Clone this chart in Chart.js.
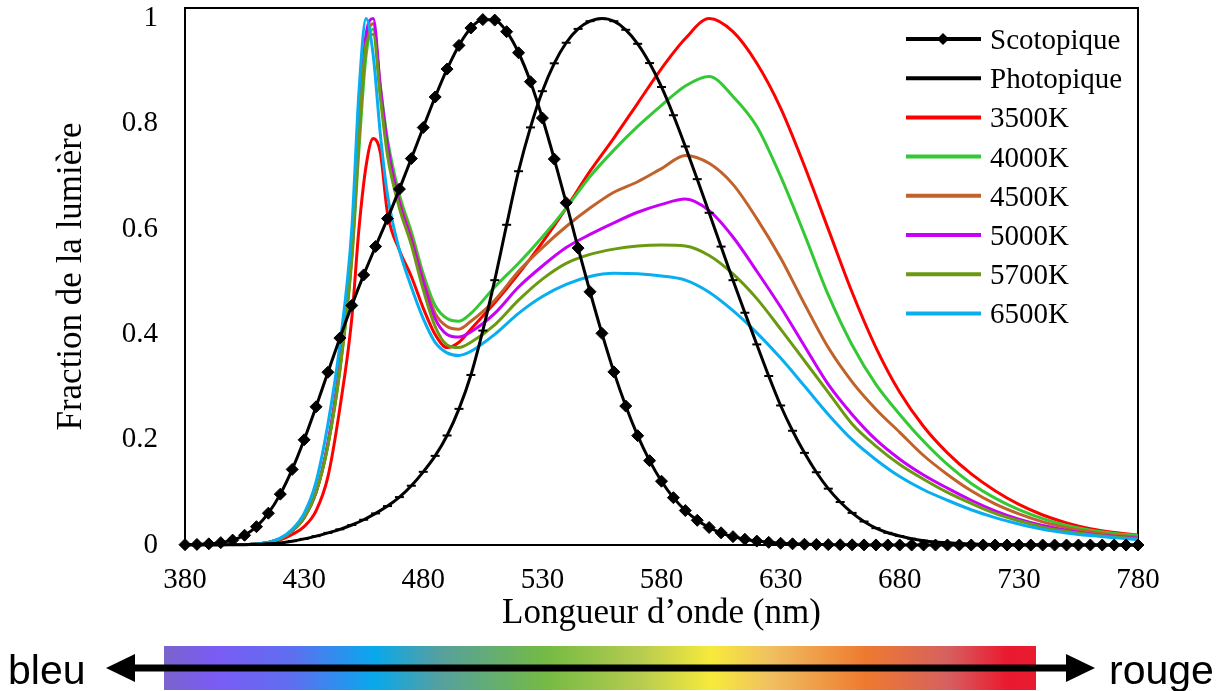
<!DOCTYPE html>
<html lang="fr">
<head>
<meta charset="utf-8">
<title>Spectres LED et sensibilité de l'oeil</title>
<script src="https://cdn.jsdelivr.net/npm/chart.js@4.4.1/dist/chart.umd.min.js"></script>
<style>
  html, body { margin: 0; padding: 0; background: #fff; }
  #wrap { position: relative; width: 1225px; height: 691px; }
</style>
</head>
<body>
<div id="wrap"><canvas id="spectres"></canvas></div>
<script>
// longueurs d'onde des courbes CIE (pas de 5 nm)
const wavelengths = [380, 385, 390, 395, 400, 405, 410, 415, 420, 425, 430, 435, 440, 445, 450, 455, 460, 465, 470, 475,
  480, 485, 490, 495, 500, 505, 510, 515, 520, 525, 530, 535, 540, 545, 550, 555, 560, 565, 570, 575,
  580, 585, 590, 595, 600, 605, 610, 615, 620, 625, 630, 635, 640, 645, 650, 655, 660, 665, 670, 675,
  680, 685, 690, 695, 700, 705, 710, 715, 720, 725, 730, 735, 740, 745, 750, 755, 760, 765, 770, 775, 780];

const scotopique = [0.0006, 0.0011, 0.0022, 0.0045, 0.0093, 0.0185, 0.0348, 0.0604, 0.0966, 0.1436, 0.1998, 0.2625, 0.3281, 0.3931, 0.455, 0.513, 0.567, 0.620, 0.676, 0.734,
  0.793, 0.851, 0.904, 0.949, 0.982, 0.998, 0.997, 0.975, 0.935, 0.880, 0.811, 0.733, 0.650, 0.564, 0.481, 0.402, 0.3288, 0.2639, 0.2076, 0.1602,
  0.1212, 0.0899, 0.0655, 0.0469, 0.0332, 0.0231, 0.0159, 0.0109, 0.0074, 0.0050, 0.0033, 0.0022, 0.0015, 0.0010, 0.0007, 0.0005, 0.0003, 0.0002, 0.0001, 0.0001,
  0, 0, 0, 0, 0, 0, 0, 0, 0, 0, 0, 0, 0, 0, 0, 0, 0, 0, 0, 0, 0];

const photopique = [0.0000, 0.0001, 0.0001, 0.0002, 0.0004, 0.0006, 0.0012, 0.0022, 0.0040, 0.0073, 0.0116, 0.0168, 0.0230, 0.0298, 0.0380, 0.0480, 0.0600, 0.0739, 0.0910, 0.1126,
  0.1390, 0.1693, 0.2080, 0.2586, 0.3230, 0.4073, 0.5030, 0.6082, 0.7100, 0.7932, 0.8620, 0.9149, 0.9540, 0.9803, 0.9950, 1.0000, 0.9950, 0.9786, 0.9520, 0.9154,
  0.8700, 0.8163, 0.7570, 0.6949, 0.6310, 0.5668, 0.5030, 0.4412, 0.3810, 0.3210, 0.2650, 0.2170, 0.1750, 0.1382, 0.1070, 0.0816, 0.0610, 0.0446, 0.0320, 0.0232,
  0.0170, 0.0119, 0.0082, 0.0057, 0.0041, 0.0029, 0.0021, 0.0015, 0.0010, 0.0007, 0.0005, 0.0004, 0.0002, 0.0002, 0.0001, 0.0001, 0.0001, 0, 0, 0, 0];

// longueurs d'onde lues pour les spectres des LED
const ledWavelengths = [380, 400, 410, 415, 420, 425, 430, 435, 440, 445, 450, 453, 456, 459, 462, 465, 470, 475, 480, 485,
  490, 495, 500, 510, 520, 530, 540, 550, 560, 570, 580, 590, 600, 610, 620, 630, 640, 650, 660, 670,
  680, 690, 700, 710, 720, 730, 740, 750, 760, 770, 780];

const led3500 = [0, 0, 0.002, 0.005, 0.01, 0.02, 0.035, 0.065, 0.13, 0.26, 0.43, 0.6, 0.72, 0.772, 0.745, 0.63, 0.56, 0.51, 0.45, 0.40,
  0.375, 0.385, 0.41, 0.46, 0.515, 0.575, 0.64, 0.71, 0.773, 0.839, 0.905, 0.962, 1.0, 0.975, 0.915, 0.83, 0.72, 0.6, 0.48, 0.375,
  0.29, 0.225, 0.175, 0.135, 0.103, 0.077, 0.057, 0.042, 0.031, 0.024, 0.019];
const led4000 = [0, 0, 0.002, 0.005, 0.012, 0.027, 0.052, 0.1, 0.19, 0.33, 0.54, 0.75, 0.93, 0.98, 0.87, 0.77, 0.665, 0.595, 0.515, 0.455,
  0.43, 0.425, 0.44, 0.49, 0.535, 0.585, 0.64, 0.70, 0.75, 0.795, 0.835, 0.872, 0.89, 0.852, 0.795, 0.70, 0.59, 0.475, 0.38, 0.305,
  0.248, 0.197, 0.153, 0.117, 0.089, 0.067, 0.05, 0.037, 0.028, 0.022, 0.018];
const led4500 = [0, 0, 0.002, 0.005, 0.012, 0.027, 0.052, 0.1, 0.19, 0.335, 0.55, 0.77, 0.95, 0.99, 0.86, 0.755, 0.655, 0.585, 0.505, 0.44,
  0.415, 0.41, 0.425, 0.465, 0.52, 0.565, 0.605, 0.64, 0.67, 0.69, 0.715, 0.74, 0.725, 0.685, 0.62, 0.545, 0.458, 0.375, 0.31, 0.258,
  0.214, 0.17, 0.134, 0.103, 0.078, 0.059, 0.044, 0.033, 0.025, 0.019, 0.015];
const led5000 = [0, 0, 0.002, 0.005, 0.012, 0.027, 0.052, 0.1, 0.195, 0.345, 0.56, 0.8, 0.97, 1.0, 0.87, 0.76, 0.65, 0.58, 0.50, 0.43,
  0.40, 0.395, 0.405, 0.44, 0.49, 0.53, 0.565, 0.59, 0.612, 0.632, 0.647, 0.657, 0.635, 0.585, 0.52, 0.452, 0.378, 0.305, 0.248, 0.2,
  0.163, 0.133, 0.108, 0.085, 0.065, 0.049, 0.037, 0.028, 0.021, 0.016, 0.013];
const led5700 = [0, 0, 0.002, 0.005, 0.012, 0.027, 0.052, 0.1, 0.19, 0.335, 0.55, 0.78, 0.95, 0.97, 0.85, 0.74, 0.64, 0.57, 0.485, 0.415,
  0.38, 0.375, 0.385, 0.418, 0.465, 0.505, 0.535, 0.552, 0.562, 0.568, 0.57, 0.568, 0.55, 0.515, 0.468, 0.41, 0.35, 0.29, 0.23, 0.188,
  0.153, 0.125, 0.1, 0.079, 0.06, 0.046, 0.034, 0.026, 0.02, 0.015, 0.012];
const led6500 = [0, 0, 0.002, 0.005, 0.013, 0.03, 0.06, 0.12, 0.23, 0.38, 0.60, 0.86, 1.0, 0.93, 0.78, 0.665, 0.56, 0.49, 0.43, 0.385,
  0.365, 0.36, 0.368, 0.40, 0.44, 0.472, 0.495, 0.51, 0.516, 0.515, 0.511, 0.503, 0.48, 0.445, 0.403, 0.355, 0.302, 0.248, 0.2, 0.162,
  0.13, 0.105, 0.085, 0.067, 0.052, 0.04, 0.03, 0.023, 0.018, 0.014, 0.01];

const xTicks = [380, 430, 480, 530, 580, 630, 680, 730, 780];

// dégradé de la barre du bas (position relative, couleur)
const spectreStops = [
  [0, '#7a64cc'], [0.058, '#7b5cf5'], [0.146, '#5f6ef0'], [0.241, '#08a8ec'], [0.315, '#55a0a0'],
  [0.438, '#74ba44'], [0.548, '#b8cc50'], [0.628, '#f7ea3c'], [0.695, '#f0c060'], [0.804, '#ee7a30'],
  [0.899, '#d66060'], [0.966, '#ea1a30'], [1, '#e81c30']
];

const SERIF = '"Liberation Serif", "Times New Roman", serif';
Chart.defaults.font.family = SERIF;
Chart.defaults.color = '#000';

const pts = (xs, ys) => xs.map((x, i) => ({ x: x, y: ys[i] }));

function ledSet(label, data, color, order) {
  return {
    label: label,
    data: pts(ledWavelengths, data),
    borderColor: color,
    borderWidth: 3,
    pointRadius: 0,
    tension: 0.4,
    cubicInterpolationMode: 'monotone',
    fill: false,
    order: order
  };
}

// cadre autour de la zone de tracé
const cadre = {
  id: 'cadre',
  beforeDatasetsDraw(chart) {
    const a = chart.chartArea, ctx = chart.ctx;
    ctx.save();
    ctx.strokeStyle = '#000';
    ctx.lineWidth = 2;
    ctx.strokeRect(a.left, a.top, a.right - a.left, a.bottom - a.top);
    ctx.restore();
  }
};

// légende dans la zone de tracé
const legendeInterne = {
  id: 'legendeInterne',
  afterDatasetsDraw(chart) {
    const ctx = chart.ctx;
    ctx.save();
    chart.data.datasets.forEach((ds, i) => {
      const y = 39 + i * 39.2;
      ctx.strokeStyle = ds.borderColor;
      ctx.lineWidth = 4;
      ctx.beginPath();
      ctx.moveTo(906, y);
      ctx.lineTo(981, y);
      ctx.stroke();
      if (ds.pointStyle === 'rectRot') {
        ctx.fillStyle = '#000';
        ctx.beginPath();
        ctx.moveTo(943, y - 6);
        ctx.lineTo(949, y);
        ctx.lineTo(943, y + 6);
        ctx.lineTo(937, y);
        ctx.closePath();
        ctx.fill();
      }
      ctx.fillStyle = '#000';
      ctx.font = '29px ' + SERIF;
      ctx.textBaseline = 'alphabetic';
      ctx.textAlign = 'left';
      ctx.fillText(ds.label, 990, y + 10);
    });
    ctx.restore();
  }
};

// barre du spectre visible avec la flèche
const barreSpectre = {
  id: 'barreSpectre',
  afterDraw(chart) {
    const ctx = chart.ctx;
    const x0 = 164, x1 = 1036, y0 = 646, y1 = 690;
    ctx.save();
    const g = ctx.createLinearGradient(x0, 0, x1, 0);
    spectreStops.forEach(s => g.addColorStop(s[0], s[1]));
    ctx.fillStyle = g;
    ctx.fillRect(x0, y0, x1 - x0, y1 - y0);

    ctx.fillStyle = '#000';
    ctx.fillRect(128, 664.5, 942, 7);
    ctx.beginPath();
    ctx.moveTo(106, 668);
    ctx.lineTo(135, 654);
    ctx.lineTo(135, 682);
    ctx.closePath();
    ctx.fill();
    ctx.beginPath();
    ctx.moveTo(1095, 668);
    ctx.lineTo(1066, 654);
    ctx.lineTo(1066, 682);
    ctx.closePath();
    ctx.fill();

    ctx.font = '41px "Liberation Sans", Arial, sans-serif';
    ctx.textBaseline = 'alphabetic';
    ctx.textAlign = 'left';
    ctx.fillText('bleu', 8, 684);
    ctx.fillText('rouge', 1109, 684);
    ctx.restore();
  }
};

new Chart(document.getElementById('spectres'), {
  type: 'line',
  data: {
    datasets: [
      {
        label: 'Scotopique',
        data: pts(wavelengths, scotopique),
        borderColor: '#000',
        borderWidth: 3,
        pointStyle: 'rectRot',
        pointRadius: 6,
        pointBackgroundColor: '#000',
        pointBorderColor: '#000',
        pointBorderWidth: 1,
        tension: 0.3,
        cubicInterpolationMode: 'monotone',
        clip: false,
        order: 0
      },
      {
        label: 'Photopique',
        data: pts(wavelengths, photopique),
        borderColor: '#000',
        borderWidth: 3,
        pointStyle: 'line',
        pointRadius: 4.5,
        pointBorderColor: '#000',
        pointBorderWidth: 2,
        tension: 0.3,
        cubicInterpolationMode: 'monotone',
        clip: false,
        order: 1
      },
      ledSet('3500K', led3500, '#ff0000', 7),
      ledSet('4000K', led4000, '#35c835', 6),
      ledSet('4500K', led4500, '#c0622a', 5),
      ledSet('5000K', led5000, '#c800f5', 4),
      ledSet('5700K', led5700, '#6b9a12', 3),
      ledSet('6500K', led6500, '#08aef0', 2)
    ]
  },
  options: {
    responsive: true,
    maintainAspectRatio: false,
    animation: false,
    layout: { padding: { left: 0, right: 87, top: 8, bottom: 56 } },
    plugins: {
      legend: { display: false },
      tooltip: { enabled: false }
    },
    scales: {
      x: {
        type: 'linear',
        min: 380,
        max: 780,
        afterBuildTicks: s => { s.ticks = xTicks.map(v => ({ value: v })); },
        ticks: { font: { size: 29 }, padding: 18, maxRotation: 0, color: '#000' },
        grid: { display: false, drawTicks: false },
        border: { display: false },
        title: { display: true, text: 'Longueur d\u2019onde (nm)', font: { size: 35 }, padding: { top: 0, bottom: 0 }, color: '#000' },
        afterFit: s => { s.height = 90; s.paddingLeft = 0; s.paddingRight = 0; }
      },
      y: {
        min: 0,
        max: 1.02,
        ticks: {
          stepSize: 0.2,
          includeBounds: false,
          font: { size: 29 },
          padding: 27,
          color: '#000',
          callback: v => String(Math.round(v * 10) / 10)
        },
        grid: { display: false, drawTicks: false },
        border: { display: false },
        title: { display: true, text: 'Fraction de la lumière', font: { size: 35 }, padding: { top: 51, bottom: 0 }, color: '#000' },
        afterFit: s => { s.width = 185; s.paddingTop = 0; s.paddingBottom = 0; }
      }
    }
  },
  plugins: [cadre, legendeInterne, barreSpectre]
});
</script>
</body>
</html>
